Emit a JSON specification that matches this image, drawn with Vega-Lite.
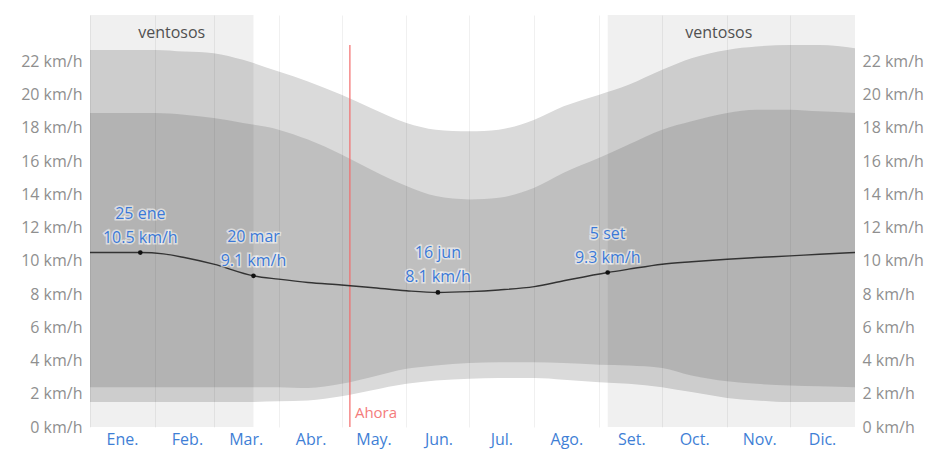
{
  "$schema": "https://vega.github.io/schema/vega-lite/v6.json",
  "width": 765,
  "height": 412,
  "autosize": {"type": "none"},
  "padding": {"left": 90, "top": 15, "right": 80, "bottom": 23},
  "background": "white",
  "config": {"view": {"stroke": null}, "font": "Open Sans"},
  "datasets": {
    "bands": [
      {"date": "2023-01-01", "p10": 1.5, "p25": 2.4, "p75": 18.9, "p90": 22.7},
      {"date": "2023-01-15", "p10": 1.5, "p25": 2.4, "p75": 18.9, "p90": 22.7},
      {"date": "2023-02-01", "p10": 1.5, "p25": 2.4, "p75": 18.9, "p90": 22.7},
      {"date": "2023-02-15", "p10": 1.5, "p25": 2.4, "p75": 18.8, "p90": 22.6},
      {"date": "2023-03-01", "p10": 1.5, "p25": 2.4, "p75": 18.6, "p90": 22.5},
      {"date": "2023-03-15", "p10": 1.5, "p25": 2.4, "p75": 18.3, "p90": 22.1},
      {"date": "2023-04-01", "p10": 1.55, "p25": 2.4, "p75": 17.9, "p90": 21.4},
      {"date": "2023-04-15", "p10": 1.6, "p25": 2.35, "p75": 17.3, "p90": 20.8},
      {"date": "2023-05-01", "p10": 1.85, "p25": 2.6, "p75": 16.4, "p90": 20.0},
      {"date": "2023-05-15", "p10": 2.2, "p25": 3.0, "p75": 15.5, "p90": 19.2},
      {"date": "2023-06-01", "p10": 2.6, "p25": 3.5, "p75": 14.5, "p90": 18.3},
      {"date": "2023-06-15", "p10": 2.8, "p25": 3.7, "p75": 13.9, "p90": 17.9},
      {"date": "2023-07-01", "p10": 2.9, "p25": 3.85, "p75": 13.7, "p90": 17.8},
      {"date": "2023-07-15", "p10": 2.95, "p25": 3.9, "p75": 13.8, "p90": 17.9},
      {"date": "2023-08-01", "p10": 2.95, "p25": 3.9, "p75": 14.4, "p90": 18.5},
      {"date": "2023-08-15", "p10": 2.85, "p25": 3.85, "p75": 15.3, "p90": 19.3},
      {"date": "2023-09-01", "p10": 2.7, "p25": 3.75, "p75": 16.2, "p90": 20.0},
      {"date": "2023-09-15", "p10": 2.6, "p25": 3.7, "p75": 17.0, "p90": 20.6},
      {"date": "2023-10-01", "p10": 2.4, "p25": 3.55, "p75": 17.9, "p90": 21.5},
      {"date": "2023-10-15", "p10": 2.1, "p25": 3.1, "p75": 18.4, "p90": 22.2},
      {"date": "2023-11-01", "p10": 1.75, "p25": 2.75, "p75": 18.9, "p90": 22.7},
      {"date": "2023-11-15", "p10": 1.6, "p25": 2.6, "p75": 19.1, "p90": 22.9},
      {"date": "2023-12-01", "p10": 1.5, "p25": 2.5, "p75": 19.1, "p90": 23.0},
      {"date": "2023-12-15", "p10": 1.5, "p25": 2.45, "p75": 19.0, "p90": 23.0},
      {"date": "2024-01-01", "p10": 1.5, "p25": 2.4, "p75": 18.9, "p90": 22.8}
    ],
    "mean": [
      {"date": "2023-01-01", "mean": 10.5},
      {"date": "2023-01-15", "mean": 10.5},
      {"date": "2023-01-25", "mean": 10.5},
      {"date": "2023-02-05", "mean": 10.42},
      {"date": "2023-02-15", "mean": 10.2},
      {"date": "2023-03-01", "mean": 9.8},
      {"date": "2023-03-20", "mean": 9.1},
      {"date": "2023-04-01", "mean": 8.9},
      {"date": "2023-04-15", "mean": 8.7},
      {"date": "2023-05-01", "mean": 8.55},
      {"date": "2023-05-15", "mean": 8.4},
      {"date": "2023-06-01", "mean": 8.2},
      {"date": "2023-06-16", "mean": 8.1},
      {"date": "2023-07-01", "mean": 8.15},
      {"date": "2023-07-15", "mean": 8.25},
      {"date": "2023-08-01", "mean": 8.45},
      {"date": "2023-08-15", "mean": 8.8},
      {"date": "2023-09-05", "mean": 9.3},
      {"date": "2023-09-15", "mean": 9.5},
      {"date": "2023-10-01", "mean": 9.8},
      {"date": "2023-10-15", "mean": 9.95},
      {"date": "2023-11-01", "mean": 10.1},
      {"date": "2023-11-15", "mean": 10.2},
      {"date": "2023-12-01", "mean": 10.3},
      {"date": "2023-12-15", "mean": 10.4},
      {"date": "2024-01-01", "mean": 10.5}
    ],
    "notes": [
      {"date": "2023-01-25", "mean": 10.5, "label": "25 ene|10.5 km/h"},
      {"date": "2023-03-20", "mean": 9.1, "label": "20 mar|9.1 km/h"},
      {"date": "2023-06-16", "mean": 8.1, "label": "16 jun|8.1 km/h"},
      {"date": "2023-09-05", "mean": 9.3, "label": "5 set|9.3 km/h"}
    ],
    "windy": [
      {"date": "2023-01-01", "end": "2023-03-20"},
      {"date": "2023-09-05", "end": "2024-01-01"}
    ],
    "windyLabels": [
      {"date": "2023-02-09", "v": 23.7, "label": "ventosos"},
      {"date": "2023-10-28", "v": 23.7, "label": "ventosos"}
    ],
    "now": [
      {"date": "2023-05-05", "y": 0, "y2": 23.0, "ly": 0.85, "label": "Ahora"}
    ]
  },
  "encoding": {
    "x": {
      "field": "date",
      "type": "temporal",
      "scale": {
        "type": "utc",
        "domain": [
          {"year": 2023, "month": 1, "date": 1, "utc": true},
          {"year": 2024, "month": 1, "date": 1, "utc": true}
        ]
      },
      "axis": {
        "orient": "bottom",
        "title": null,
        "values": [
          {"year": 2023, "month": 1, "date": 1, "utc": true},
          {"year": 2023, "month": 2, "date": 1, "utc": true},
          {"year": 2023, "month": 3, "date": 1, "utc": true},
          {"year": 2023, "month": 4, "date": 1, "utc": true},
          {"year": 2023, "month": 5, "date": 1, "utc": true},
          {"year": 2023, "month": 6, "date": 1, "utc": true},
          {"year": 2023, "month": 7, "date": 1, "utc": true},
          {"year": 2023, "month": 8, "date": 1, "utc": true},
          {"year": 2023, "month": 9, "date": 1, "utc": true},
          {"year": 2023, "month": 10, "date": 1, "utc": true},
          {"year": 2023, "month": 11, "date": 1, "utc": true},
          {"year": 2023, "month": 12, "date": 1, "utc": true}
        ],
        "labelExpr": "['Ene.','Feb.','Mar.','Abr.','May.','Jun.','Jul.','Ago.','Set.','Oct.','Nov.','Dic.'][utcmonth(datum.value)]",
        "labelAlign": "center",
        "labelOffset": 32,
        "labelBaseline": "top",
        "labelPadding": 4,
        "labelColor": "#3f7fd6",
        "labelFontSize": 16,
        "labelFont": "Open Sans",
        "labelBound": false,
        "labelOverlap": false,
        "domain": false,
        "ticks": false,
        "grid": true,
        "gridColor": "#000000",
        "gridOpacity": 0.06,
        "zindex": 1
      }
    }
  },
  "resolve": {"axis": {"y": "independent"}},
  "layer": [
    {
      "data": {"name": "bands"},
      "mark": {"type": "area", "interpolate": "monotone", "color": "#dadada"},
      "encoding": {
        "y": {
          "field": "p10", "type": "quantitative",
          "scale": {"domain": [0, 24.8], "nice": false, "zero": true},
          "axis": {
            "orient": "left", "title": null,
            "values": [0, 2, 4, 6, 8, 10, 12, 14, 16, 18, 20, 22],
            "labelExpr": "datum.value + ' km/h'",
            "domain": false, "ticks": false, "grid": false,
            "labelColor": "#8f8f8f", "labelFontSize": 16, "labelFont": "Open Sans",
            "labelPadding": 8
          }
        },
        "y2": {"field": "p90"}
      }
    },
    {
      "data": {"name": "bands"},
      "mark": {"type": "area", "interpolate": "monotone", "color": "#bfbfbf"},
      "encoding": {
        "y": {"field": "p25", "type": "quantitative", "scale": {"domain": [0, 24.8], "nice": false, "zero": true}, "axis": null},
        "y2": {"field": "p75"}
      }
    },
    {
      "data": {"name": "windy"},
      "mark": {"type": "rect", "color": "#000000", "opacity": 0.06},
      "encoding": {
        "x2": {"field": "end"}
      }
    },
    {
      "data": {"name": "windyLabels"},
      "mark": {"type": "text", "color": "#505050", "fontSize": 16, "font": "Open Sans", "align": "center", "baseline": "middle"},
      "encoding": {
        "y": {"field": "v", "type": "quantitative", "scale": {"domain": [0, 24.8], "nice": false, "zero": true}, "axis": null},
        "text": {"field": "label"}
      }
    },
    {
      "data": {"name": "now"},
      "mark": {"type": "rule", "color": "#f26b6b", "strokeWidth": 1.2},
      "encoding": {
        "y": {"field": "y", "type": "quantitative", "scale": {"domain": [0, 24.8], "nice": false, "zero": true}, "axis": null},
        "y2": {"field": "y2"}
      }
    },
    {
      "data": {"name": "now"},
      "mark": {"type": "text", "color": "#f47c7c", "fontSize": 15, "font": "Open Sans", "align": "left", "baseline": "middle", "dx": 5},
      "encoding": {
        "y": {"field": "ly", "type": "quantitative", "scale": {"domain": [0, 24.8], "nice": false, "zero": true}, "axis": null},
        "text": {"field": "label"}
      }
    },
    {
      "data": {"name": "mean"},
      "mark": {"type": "line", "interpolate": "monotone", "color": "#333333", "strokeWidth": 1.4},
      "encoding": {
        "y": {
          "field": "mean", "type": "quantitative",
          "scale": {"domain": [0, 24.8], "nice": false, "zero": true},
          "axis": {
            "orient": "right", "title": null,
            "values": [0, 2, 4, 6, 8, 10, 12, 14, 16, 18, 20, 22],
            "labelExpr": "datum.value + ' km/h'",
            "domain": false, "ticks": false, "grid": false,
            "labelColor": "#8f8f8f", "labelFontSize": 16, "labelFont": "Open Sans",
            "labelPadding": 7
          }
        }
      }
    },
    {
      "data": {"name": "notes"},
      "mark": {"type": "circle", "color": "#111111", "size": 22, "opacity": 1},
      "encoding": {
        "y": {"field": "mean", "type": "quantitative", "scale": {"domain": [0, 24.8], "nice": false, "zero": true}, "axis": null}
      }
    },
    {
      "data": {"name": "notes"},
      "mark": {"type": "text", "lineBreak": "|", "lineHeight": 24, "fontSize": 16, "font": "Open Sans", "align": "center", "baseline": "bottom", "dy": -31, "fill": "#ffffff", "stroke": "#ffffff", "strokeWidth": 3, "strokeOpacity": 0.55, "fillOpacity": 0.55},
      "encoding": {
        "y": {"field": "mean", "type": "quantitative", "scale": {"domain": [0, 24.8], "nice": false, "zero": true}, "axis": null},
        "text": {"field": "label"}
      }
    },
    {
      "data": {"name": "notes"},
      "mark": {"type": "text", "lineBreak": "|", "lineHeight": 24, "fontSize": 16, "font": "Open Sans", "align": "center", "baseline": "bottom", "dy": -31, "color": "#3a78d6"},
      "encoding": {
        "y": {"field": "mean", "type": "quantitative", "scale": {"domain": [0, 24.8], "nice": false, "zero": true}, "axis": null},
        "text": {"field": "label"}
      }
    }
  ]
}
